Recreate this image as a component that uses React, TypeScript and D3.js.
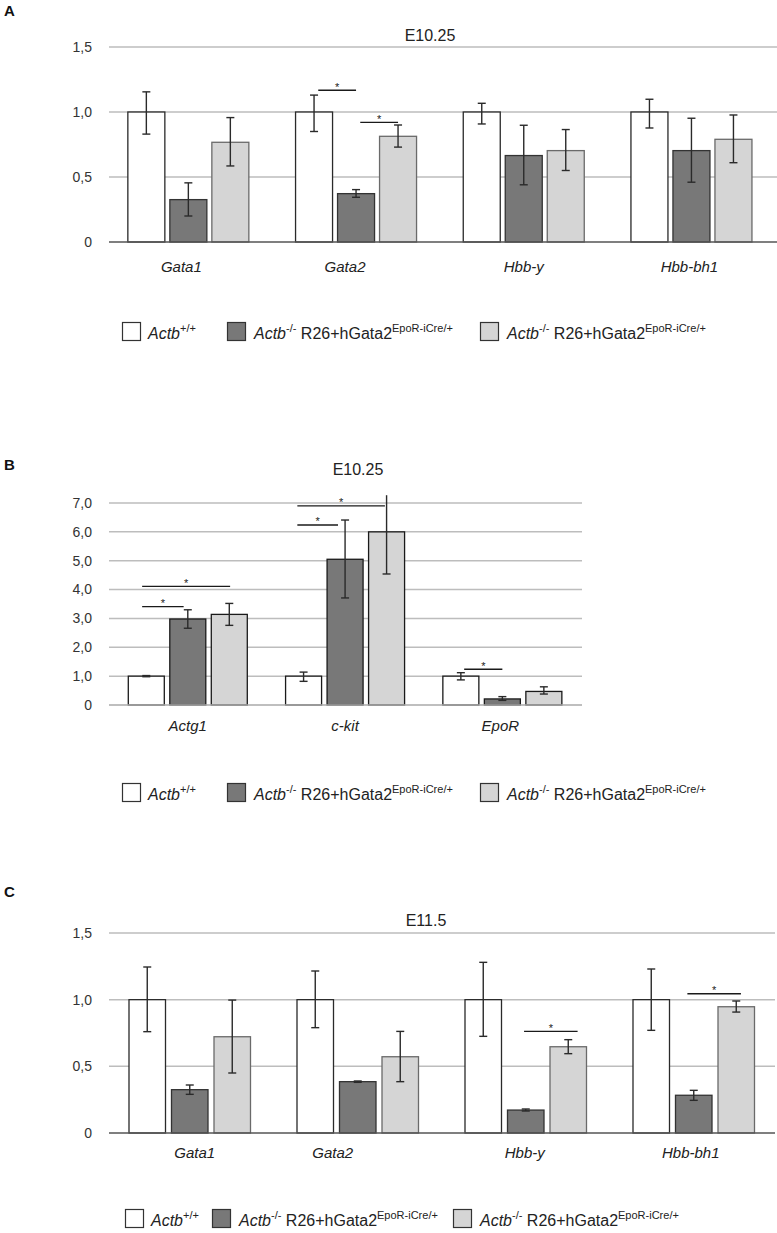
import { useEffect } from 'react';
import * as d3 from 'd3';

// Relative expression, three genotypes per gene
const SERIES = ['wt', 'ko', 'rescue'];

const GENES_A = ['Gata1', 'Gata2', 'Hbb-y', 'Hbb-bh1'];
const WT_A = [1, 1, 1, 1];
const KO_A = [0.326, 0.372, 0.665, 0.703];
const RES_A = [0.767, 0.813, 0.703, 0.79];
const WT_A_LO = [0.83, 0.85, 0.908, 0.877];
const WT_A_HI = [1.155, 1.13, 1.067, 1.098];
const KO_A_LO = [0.2, 0.344, 0.44, 0.46];
const KO_A_HI = [0.455, 0.403, 0.898, 0.952];
const RES_A_LO = [0.585, 0.73, 0.55, 0.61];
const RES_A_HI = [0.957, 0.9, 0.865, 0.977];
// [gene, from bar, to bar, height]
const SIG_A: [string, number, number, number][] = [
  ['Gata2', 0.1, 1.0, 1.167],
  ['Gata2', 1.1, 2.0, 0.92],
];

const GENES_B = ['Actg1', 'c-kit', 'EpoR'];
const WT_B = [1, 1, 1];
const KO_B = [2.98, 5.05, 0.21];
const RES_B = [3.14, 6.0, 0.47];
const WT_B_LO = [0.98, 0.82, 0.87];
const WT_B_HI = [1.02, 1.14, 1.12];
const KO_B_LO = [2.66, 3.71, 0.16];
const KO_B_HI = [3.3, 6.41, 0.29];
const RES_B_LO = [2.76, 4.54, 0.38];
const RES_B_HI = [3.52, 7.27, 0.63];
const SIG_B: [string, number, number, number][] = [
  ['Actg1', -0.1, 0.9, 3.41],
  ['Actg1', -0.1, 2.02, 4.11],
  ['c-kit', -0.15, 0.83, 6.24],
  ['c-kit', -0.15, 1.96, 6.9],
  ['EpoR', 0.08, 1.0, 1.24],
];

const GENES_C = ['Gata1', 'Gata2', 'Hbb-y', 'Hbb-bh1'];
const WT_C = [1, 1, 1, 1];
const KO_C = [0.325, 0.385, 0.172, 0.283];
const RES_C = [0.722, 0.572, 0.647, 0.947];
const WT_C_LO = [0.76, 0.79, 0.725, 0.77];
const WT_C_HI = [1.245, 1.215, 1.28, 1.23];
const KO_C_LO = [0.29, 0.38, 0.165, 0.245];
const KO_C_HI = [0.36, 0.39, 0.18, 0.32];
const RES_C_LO = [0.45, 0.385, 0.595, 0.907];
const RES_C_HI = [0.997, 0.762, 0.7, 0.99];
const SIG_C: [string, number, number, number][] = [
  ['Hbb-y', 0.96, 2.22, 0.762],
  ['Hbb-bh1', 0.85, 2.11, 1.044],
];

const TICKS_SMALL = [0, 0.5, 1.0, 1.5];
const TICKS_B = [0, 1, 2, 3, 4, 5, 6, 7];

const FILL: Record<string, string> = { wt: '#ffffff', ko: '#787878', rescue: '#d5d5d5' };
const STROKE: Record<string, string> = { wt: '#2a2a2a', ko: '#333333', rescue: '#6a6a6a' };

const FONT = '"Liberation Sans", Arial, Helvetica, sans-serif';
const fmt = d3.formatLocale({ decimal: ',', thousands: '.', grouping: [3], currency: ['', ''] }).format('.1f');

interface PanelProps {
  letter: string;
  letterY: number;
  title: string;
  titleX: number;
  titleY: number;
  genes: string[];
  values: number[][];
  lo: number[][];
  hi: number[][];
  sig: [string, number, number, number][];
  ticks: number[];
  yMax: number;
  x0: number;
  x1: number;
  yTop: number;
  yBase: number;
  gridEnd: number;
  barW: number;
  barStep: number;
  labelY: number;
  labelNudge: number[];
  baseColor: string;
  blackBars: boolean;
  legendY: number;
  legendX: number[];
}

function Legend({ y, xs }: { y: number; xs: number[] }) {
  const box = 18;
  return (
    <g fontFamily={FONT} fontSize={16} fill="#222">
      {SERIES.map((s, i) => (
        <rect key={s} x={xs[i] + 0.5} y={y + 0.5} width={box} height={box} fill={FILL[s]} stroke="#333" strokeWidth={1.2} />
      ))}
      <text x={xs[0] + 26} y={y + 17}>
        <tspan fontStyle="italic">Actb</tspan>
        <tspan fontSize={11} dy={-7}>+/+</tspan>
      </text>
      {[1, 2].map((i) => (
        <text key={i} x={xs[i] + 27} y={y + 17}>
          <tspan fontStyle="italic">Actb</tspan>
          <tspan fontSize={11} dy={-7}>-/-</tspan>
          <tspan dy={7}> R26+hGata2</tspan>
          <tspan fontSize={11} dy={-7}>EpoR-iCre/+</tspan>
        </text>
      ))}
    </g>
  );
}

function Panel(p: PanelProps) {
  const y = d3.scaleLinear().domain([0, p.yMax]).range([p.yBase, p.yTop]);
  const groupW = p.barStep * 2 + p.barW;
  const x = d3
    .scaleBand<string>()
    .domain(p.genes)
    .range([p.x0, p.x1]);
  const gOff = (x.step() - groupW) / 2;
  const sub = d3
    .scaleBand<string>()
    .domain(SERIES)
    .range([0, groupW])
    .paddingInner((p.barStep - p.barW) / p.barStep);
  const barCx = (gene: string, k: number) => (x(gene) as number) + gOff + p.barW / 2 + k * p.barStep;
  const cap = 4;

  return (
    <g>
      <text x={4} y={p.letterY} fontFamily={FONT} fontWeight="bold" fontSize={15} fill="#111">
        {p.letter}
      </text>
      <text x={p.titleX} y={p.titleY} textAnchor="middle" fontFamily={FONT} fontSize={16} fill="#222">
        {p.title}
      </text>
      {/* gridlines + tick labels */}
      {p.ticks.map((t) => (
        <g key={t}>
          {t !== 0 && (
            <line x1={109} x2={p.gridEnd} y1={y(t)} y2={y(t)} stroke="#bdbdbd" strokeWidth={1.5} />
          )}
          <text x={92} y={y(t)} dy="0.35em" textAnchor="end" fontFamily={FONT} fontSize={14} fill="#333">
            {t === 0 ? '0' : fmt(t)}
          </text>
        </g>
      ))}
      {/* bars */}
      {p.genes.map((gene, gi) =>
        SERIES.map((s, k) => {
          const bx = (x(gene) as number) + gOff + (sub(s) as number);
          const v = p.values[k][gi];
          return (
            <rect
              key={gene + s}
              x={bx}
              y={y(v)}
              width={sub.bandwidth()}
              height={p.yBase - y(v)}
              fill={FILL[s]}
              stroke={p.blackBars ? '#1a1a1a' : STROKE[s]}
              strokeWidth={1.3}
            />
          );
        })
      )}
      <line x1={109} x2={p.gridEnd} y1={p.yBase} y2={p.yBase} stroke={p.baseColor} strokeWidth={1.6} />
      {/* error bars */}
      {p.genes.map((gene, gi) =>
        SERIES.map((s, k) => {
          const cx = barCx(gene, k);
          const ylo = y(p.lo[k][gi]);
          const yhi = y(p.hi[k][gi]);
          const topCap = p.hi[k][gi] <= p.yMax;
          return (
            <g key={'e' + gene + s} stroke="#2a2a2a" strokeWidth={1.4}>
              <line x1={cx} x2={cx} y1={ylo} y2={yhi} />
              <line x1={cx - cap} x2={cx + cap} y1={ylo} y2={ylo} />
              {topCap && <line x1={cx - cap} x2={cx + cap} y1={yhi} y2={yhi} />}
            </g>
          );
        })
      )}
      {/* significance */}
      {p.sig.map(([gene, a, b, h], i) => {
        const xa = barCx(gene, a);
        const xb = barCx(gene, b);
        return (
          <g key={'s' + i}>
            <line x1={xa} x2={xb} y1={y(h)} y2={y(h)} stroke="#1a1a1a" strokeWidth={1.4} />
            <text x={(xa + xb) / 2} y={y(h) + 0.5} textAnchor="middle" fontFamily={FONT} fontSize={11} fill="#222">
              *
            </text>
          </g>
        );
      })}
      {/* gene labels */}
      {p.genes.map((gene, gi) => (
        <text
          key={'l' + gene}
          x={(x(gene) as number) + x.bandwidth() / 2 + p.labelNudge[gi]}
          y={p.labelY}
          textAnchor="middle"
          fontFamily={FONT}
          fontStyle="italic"
          fontSize={15}
          fill="#222"
        >
          {gene}
        </text>
      ))}
      <Legend y={p.legendY} xs={p.legendX} />
    </g>
  );
}

export default function App() {
  useEffect(() => {
    document.body.style.margin = '0';
  }, []);

  return (
    <svg width={777} height={1233} style={{ display: 'block', background: '#fff' }}>
      <Panel
        letter="A"
        letterY={16}
        title="E10.25"
        titleX={430}
        titleY={41}
        genes={GENES_A}
        values={[WT_A, KO_A, RES_A]}
        lo={[WT_A_LO, KO_A_LO, RES_A_LO]}
        hi={[WT_A_HI, KO_A_HI, RES_A_HI]}
        sig={SIG_A}
        ticks={TICKS_SMALL}
        yMax={1.5}
        x0={104.5}
        x1={775.3}
        yTop={47}
        yBase={242}
        gridEnd={777}
        barW={37}
        barStep={42}
        labelY={272}
        labelNudge={[-7, -11, 0, -2]}
        baseColor="#555"
        blackBars={false}
        legendY={322}
        legendX={[122, 227, 480]}
      />
      <Panel
        letter="B"
        letterY={470}
        title="E10.25"
        titleX={358}
        titleY={475}
        genes={GENES_B}
        values={[WT_B, KO_B, RES_B]}
        lo={[WT_B_LO, KO_B_LO, RES_B_LO]}
        hi={[WT_B_HI, KO_B_HI, RES_B_HI]}
        sig={SIG_B}
        ticks={TICKS_B}
        yMax={7}
        x0={109.15}
        x1={581}
        yTop={503}
        yBase={705}
        gridEnd={582}
        barW={36}
        barStep={41.5}
        labelY={731}
        labelNudge={[0, 0, -2]}
        baseColor="#aaa"
        blackBars={true}
        legendY={783}
        legendX={[122, 227, 480]}
      />
      <Panel
        letter="C"
        letterY={897}
        title="E11.5"
        titleX={426}
        titleY={926}
        genes={GENES_C}
        values={[WT_C, KO_C, RES_C]}
        lo={[WT_C_LO, KO_C_LO, RES_C_LO]}
        hi={[WT_C_HI, KO_C_HI, RES_C_HI]}
        sig={SIG_C}
        ticks={TICKS_SMALL}
        yMax={1.5}
        x0={105.75}
        x1={777.75}
        yTop={933}
        yBase={1133}
        gridEnd={775}
        barW={36.5}
        barStep={42.5}
        labelY={1158}
        labelNudge={[5, -25, -1, -3]}
        baseColor="#555"
        blackBars={false}
        legendY={1209}
        legendX={[125, 212, 453]}
      />
    </svg>
  );
}
